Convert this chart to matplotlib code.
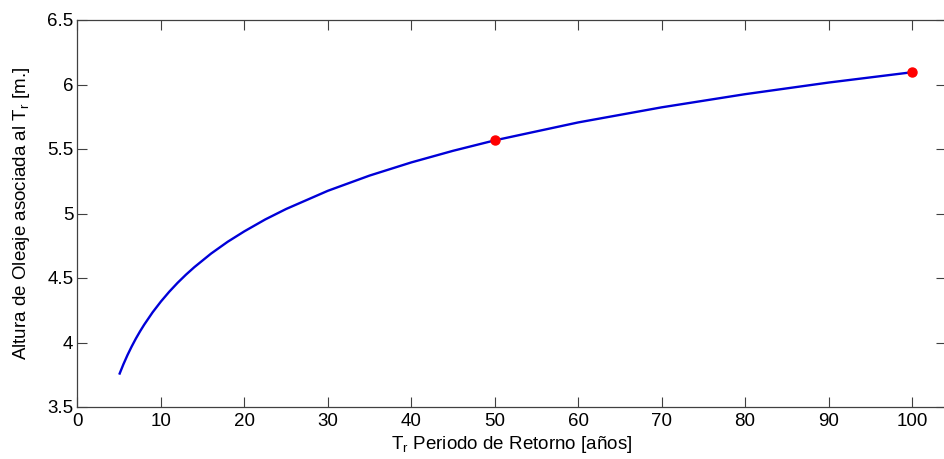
import matplotlib
matplotlib.use("Agg")
import matplotlib.pyplot as plt

# Return period (years) and associated wave height (m)
T_r = [5, 5.5, 6, 6.5, 7, 7.5, 8, 9, 10, 11, 12, 13, 14, 16, 18, 20, 22.5, 25, 30, 35, 40,
       45, 50, 60, 70, 80, 90, 100]
H = [3.751, 3.831, 3.904, 3.970, 4.031, 4.087, 4.139, 4.234, 4.318, 4.394, 4.463, 4.526,
     4.584, 4.689, 4.781, 4.862, 4.954, 5.035, 5.176, 5.294, 5.396, 5.486, 5.567, 5.706,
     5.823, 5.925, 6.015, 6.095]
T_marks = [50, 100]
H_marks = [5.567, 6.095]

xticks = [0, 10, 20, 30, 40, 50, 60, 70, 80, 90, 100]
yticks = [3.5, 4, 4.5, 5, 5.5, 6, 6.5]
yticklabels = ["3.5", "4", "4.5", "5", "5.5", "6", "6.5"]

plt.rcParams['font.family'] = ['Liberation Sans', 'DejaVu Sans']
plt.rcParams['mathtext.fontset'] = 'custom'
plt.rcParams['mathtext.rm'] = 'Liberation Sans'
plt.rcParams['mathtext.it'] = 'Liberation Sans'

W, Hpx = 945, 459
fig = plt.figure(figsize=(W / 100, Hpx / 100), dpi=100)
x0, x1 = 77.5, 946.5
ytop, ybot = 20, 407
ax = fig.add_axes([x0 / W, (Hpx - ybot) / Hpx, (x1 - x0) / W, (ybot - ytop) / Hpx])

ax.plot(T_r, H, color='#0000d8', lw=1.7, solid_capstyle='butt', solid_joinstyle='round')
ax.plot(T_marks, H_marks, 'o', color='#ff0000', ms=6.5, mec='#ff0000')

ax.set_xlim(0, (x1 - x0) / 8.345)
ax.set_ylim(3.5, 6.5)
ax.set_xticks(xticks)
ax.set_xticklabels([str(t) for t in xticks])
ax.set_yticks(yticks)
ax.set_yticklabels(yticklabels)

for s in ax.spines.values():
    s.set_color('#404040')
    s.set_linewidth(0.9)
ax.tick_params(direction='in', length=7, width=0.8, color='#404040',
               top=True, right=True, labelsize=13.5, labelcolor='black')
ax.tick_params(axis='x', pad=4)
ax.tick_params(axis='y', pad=3)

ax.set_xlabel(r'T$_\mathregular{r}$ Periodo de Retorno [años]', fontsize=13.5, labelpad=3)
ax.set_ylabel(r'Altura de Oleaje asociada al T$_\mathregular{r}$ [m.]', fontsize=13.5, labelpad=11)

fig.savefig('out.png', dpi=100)
